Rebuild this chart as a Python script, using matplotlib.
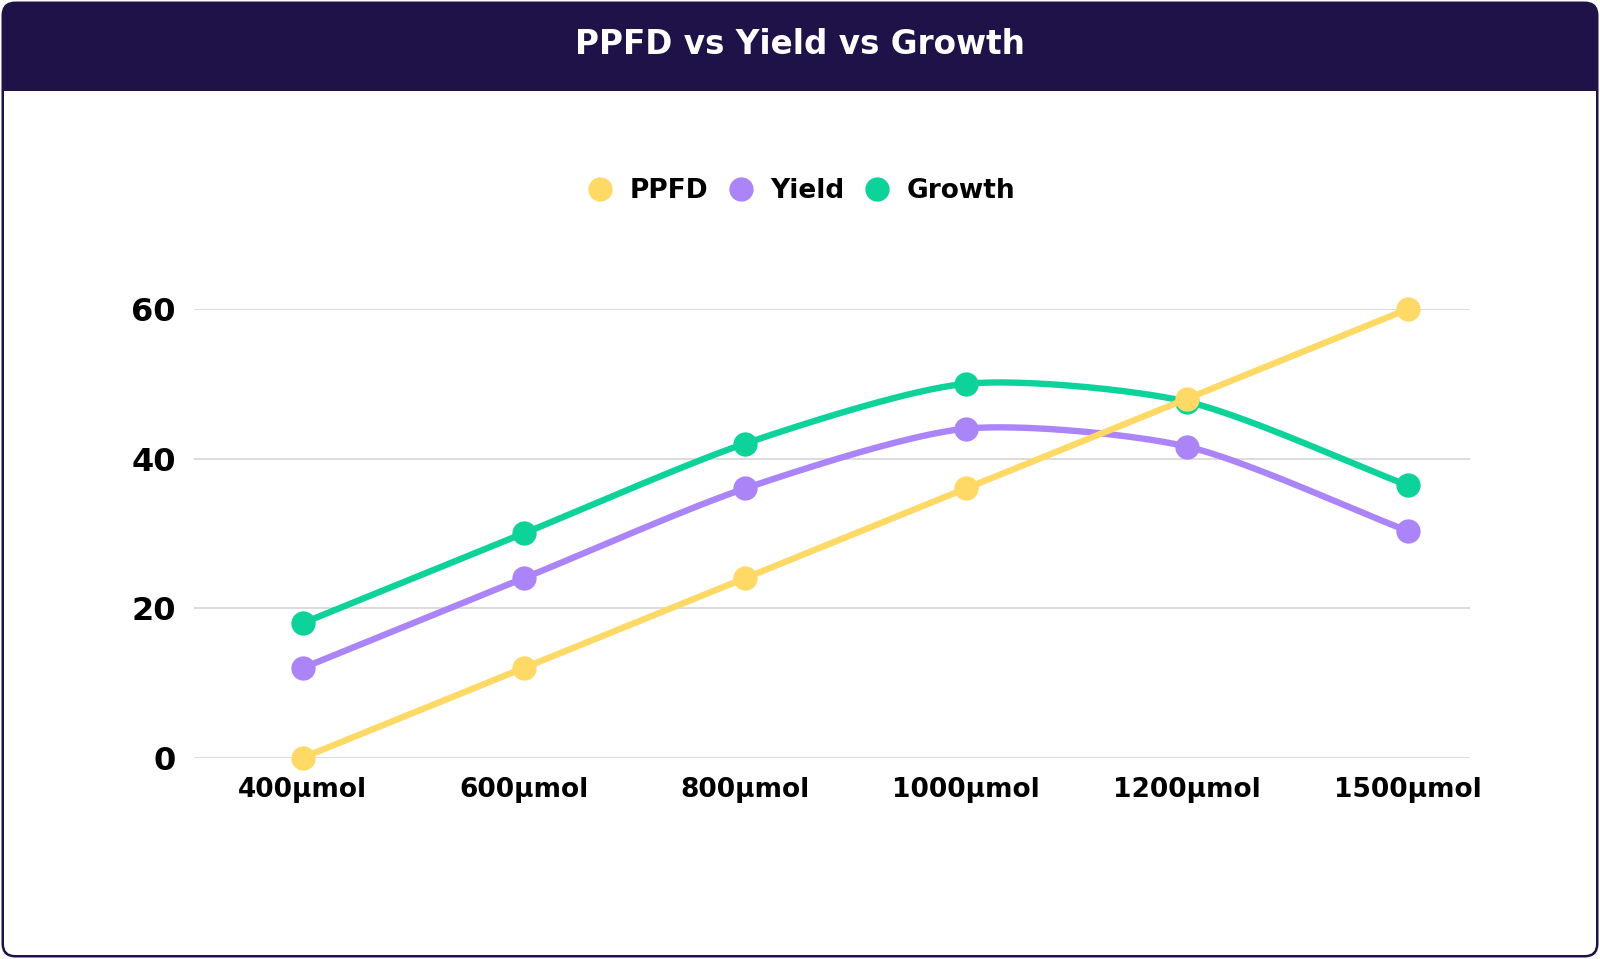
import numpy as np
import matplotlib.pyplot as plt
from matplotlib.patches import FancyBboxPatch, Rectangle
from matplotlib.lines import Line2D
from matplotlib.transforms import IdentityTransform

W, H = 1600, 959
NAVY = '#1F1249'

plt.rcParams['font.family'] = ['DejaVu Sans']
plt.rcParams['font.weight'] = 'bold'

labels = ['400μmol', '600μmol', '800μmol', '1000μmol', '1200μmol', '1500μmol']
ppfd = [0, 12, 24, 36, 48, 60]
yield_vals = [12, 24, 36, 44, 41.6, 30.3]
growth = [18, 30, 42, 50, 47.6, 36.4]

names = ['PPFD', 'Yield', 'Growth']
colors = ['#FFD966', '#AB85F7', '#0DD39B']
values = [ppfd, yield_vals, growth]

TENSION = 0.25


def spline_curve(ax, xs, ys, tension=TENSION, steps=40):
    # bezier like chart.js, control points in pixel space
    pts = ax.transData.transform(np.column_stack([xs, ys]))
    n = len(pts)
    cp_prev = pts.copy()
    cp_next = pts.copy()
    for i in range(n):
        prev = pts[max(i - 1, 0)]
        cur = pts[i]
        nxt = pts[min(i + 1, n - 1)]
        d01 = np.hypot(*(cur - prev))
        d12 = np.hypot(*(nxt - cur))
        tot = d01 + d12
        s01 = d01 / tot if tot else 0
        s12 = d12 / tot if tot else 0
        cp_prev[i] = cur - tension * s01 * (nxt - prev)
        cp_next[i] = cur + tension * s12 * (nxt - prev)
    out = [pts[0]]
    t = np.linspace(0, 1, steps)[1:, None]
    for i in range(n - 1):
        p0, p1, p2, p3 = pts[i], cp_next[i], cp_prev[i + 1], pts[i + 1]
        b = (1 - t)**3 * p0 + 3 * (1 - t)**2 * t * p1 + 3 * (1 - t) * t**2 * p2 + t**3 * p3
        out.extend(b)
    return ax.transData.inverted().transform(np.array(out))


fig = plt.figure(figsize=(W / 100, H / 100), dpi=100)
fig.patch.set_facecolor('white')

# card with navy header
ident = IdentityTransform()
fig.add_artist(FancyBboxPatch((1.5, 1.5), W - 3, H - 3, boxstyle='round,pad=0,rounding_size=14',
                              fc=NAVY, ec='none', transform=ident, zorder=0))
fig.add_artist(FancyBboxPatch((4, 4), W - 8, H - 91 - 4 + 20, boxstyle='round,pad=0,rounding_size=11',
                              fc='white', ec='none', transform=ident, zorder=0.1))
fig.add_artist(Rectangle((3, H - 91), W - 6, 24, fc=NAVY, ec='none', transform=ident, zorder=0.2))

fig.text(0.5, 1 - 45 / H, 'PPFD vs Yield vs Growth', color='white', fontsize=23.5,
         fontweight='bold', ha='center', va='center')

ax = fig.add_axes([194 / W, (H - 757.7) / H, (1470 - 194) / W, (757.7 - 309) / H])
ax.set_zorder(1)
ax.set_facecolor('none')
x = np.arange(len(labels))
ax.set_xlim(-0.492, 5.28)
ax.set_ylim(0, 60)
ax.set_yticks([0, 20, 40, 60])
ax.set_xticks(x)
ax.set_xticklabels(labels)
for s in ax.spines.values():
    s.set_visible(False)
ax.grid(axis='y', color='#D6D6D6', linewidth=1.2)
ax.set_axisbelow(True)
ax.tick_params(axis='both', length=0)
ax.tick_params(axis='x', pad=14, labelsize=19)
ax.tick_params(axis='y', pad=13, labelsize=23)

# draw last series first so PPFD ends on top
for name, vals, col in reversed(list(zip(names, values, colors))):
    curve = spline_curve(ax, x, vals)
    ax.plot(curve[:, 0], curve[:, 1], color=col, lw=4.6, solid_capstyle='round', clip_on=False)
    ax.plot(x, vals, 'o', ms=17.5, color=col, mec='none', clip_on=False)

handles = [Line2D([], [], ls='none', marker='o', ms=17.5, color=c, mec='none') for c in colors]
fig.legend(handles, names, loc='center', bbox_to_anchor=(801 / W, 1 - 191 / H), ncol=3,
           frameon=False, handlelength=1.0, handletextpad=0.6, columnspacing=0.75,
           prop={'weight': 'bold', 'size': 19})

fig.savefig('out.png', dpi=100)
